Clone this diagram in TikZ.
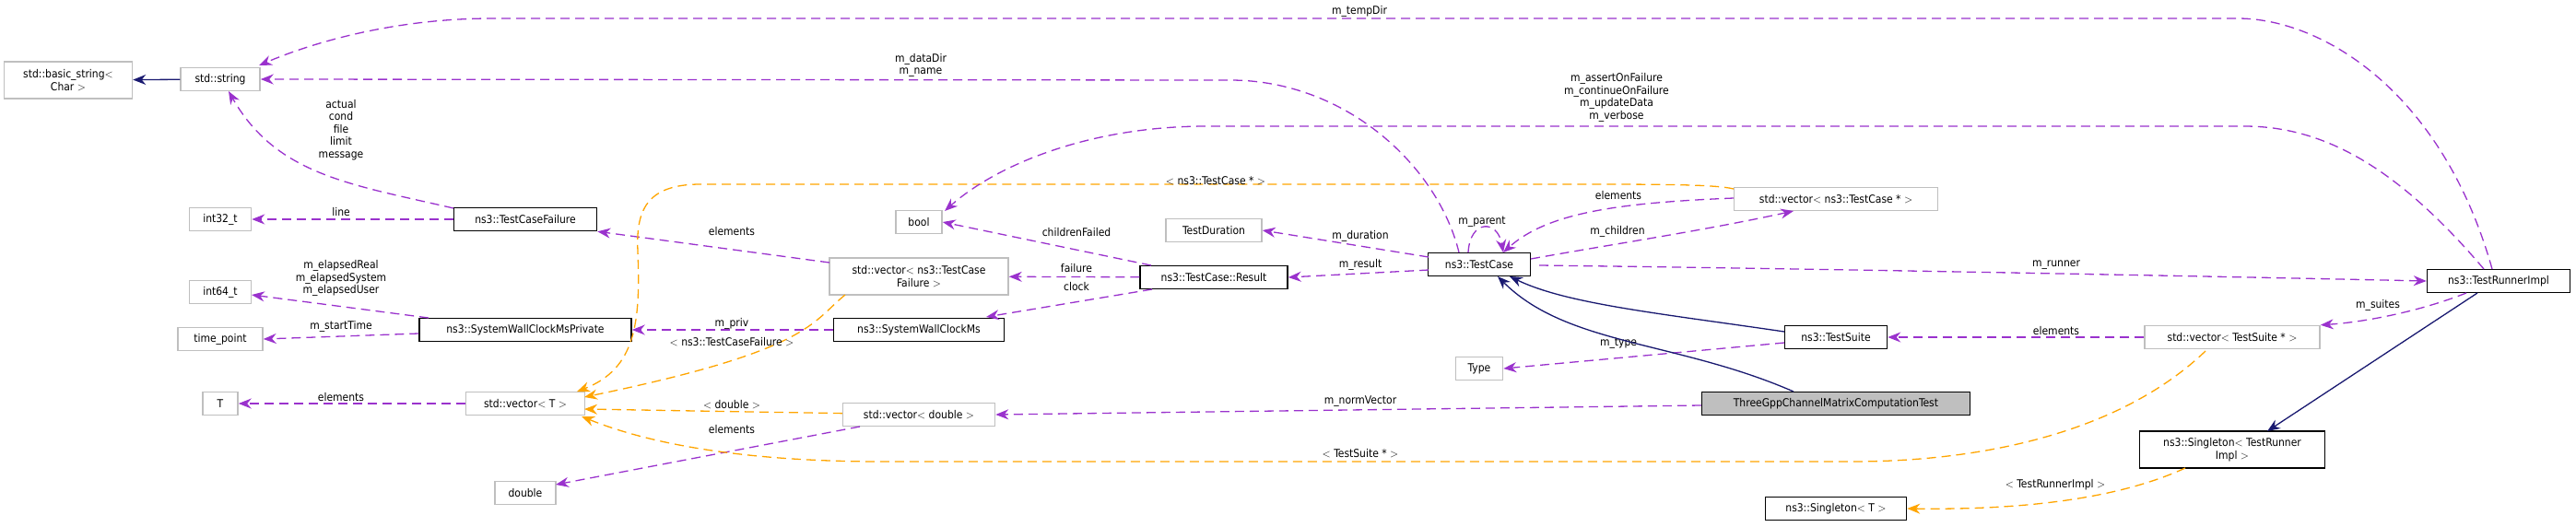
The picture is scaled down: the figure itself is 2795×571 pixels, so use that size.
\documentclass[tikz,border=0pt]{standalone}
\usepackage{fontspec}
\setmainfont{DejaVu Sans Condensed}
\usetikzlibrary{arrows.meta}
\definecolor{pur}{HTML}{9A32CD}
\definecolor{ora}{HTML}{FFA500}
\definecolor{nav}{HTML}{191970}
\definecolor{gbox}{HTML}{BFBFBF}
\begin{document}
\begin{tikzpicture}[x=1pt,y=-1pt,
  box/.style={draw=gbox,line width=1.5pt,fill=white,inner sep=1pt,minimum height=25pt,font=\fontsize{12}{14}\selectfont,align=center},
  doc/.style={box,draw=black},
  rel/.style={pur,dash pattern=on 10pt off 6pt,line width=1.3pt,-{Stealth[length=14pt,width=11pt]}},
  tpl/.style={rel,ora},
  inh/.style={nav,line width=1.3pt,-{Stealth[length=14pt,width=11pt]}},
  lab/.style={font=\fontsize{12}{13.5}\selectfont,align=center,inner sep=0pt}]
\useasboundingbox (0,0) rectangle (2795,571);
% nodes
\node[box,minimum width=139pt,minimum height=40pt] (bstr) at (74,87) {std::basic\_string$<$\\Char $>$};
\node[box,minimum width=86pt] (str) at (239,86) {std::string};
\node[box,minimum width=67pt] (i32) at (239,238) {int32\_t};
\node[doc,minimum width=155pt] (tcf) at (570,238) {ns3::TestCaseFailure};
\node[box,minimum width=67pt] (i64) at (239,317) {int64\_t};
\node[box,minimum width=92pt] (tp) at (239,368) {time\_point};
\node[doc,minimum width=230pt] (swp) at (570,358) {ns3::SystemWallClockMsPrivate};
\node[box,minimum width=38pt] (T) at (239,438) {T};
\node[box,minimum width=129pt] (vT) at (570,438) {std::vector$<$ T $>$};
\node[box,minimum width=66pt] (dbl) at (570,535) {double};
\node[box,minimum width=50pt] (bool) at (997,241) {bool};
\node[box,minimum width=194pt,minimum height=40pt] (vtcf) at (997,300) {std::vector$<$ ns3::TestCase\\Failure $>$};
\node[doc,minimum width=185pt] (swc) at (997,358) {ns3::SystemWallClockMs};
\node[box,minimum width=165pt] (vd) at (997,450) {std::vector$<$ double $>$};
\node[box,minimum width=104pt] (td) at (1317,250) {TestDuration};
\node[doc,minimum width=160pt] (res) at (1317,301) {ns3::TestCase::Result};
\node[doc,minimum width=111pt] (tc) at (1605,287) {ns3::TestCase};
\node[box,minimum width=51pt] (type) at (1605,400) {Type};
\node[box,minimum width=221pt] (vtc) at (1992,216) {std::vector$<$ ns3::TestCase * $>$};
\node[doc,minimum width=111pt] (ts) at (1992,366) {ns3::TestSuite};
\node[doc,fill=gbox,minimum width=291pt] (three) at (1992,438) {ThreeGppChannelMatrixComputationTest};
\node[doc,minimum width=155pt] (tri) at (2711,305) {ns3::TestRunnerImpl};
\node[box,minimum width=190pt] (vts) at (2422,366) {std::vector$<$ TestSuite * $>$};
\node[doc,minimum width=201pt,minimum height=40pt] (stri) at (2422,488) {ns3::Singleton$<$ TestRunner\\Impl $>$};
\node[doc,minimum width=153pt] (sT) at (1992,552) {ns3::Singleton$<$ T $>$};
% coordinates
\coordinate (tcfA) at (492,226);
\coordinate (swpA) at (465,345);
\coordinate (vtcfA) at (917,320);
\coordinate (vtcA) at (1881,205);
\coordinate (vdA) at (933,463);
\coordinate (vtsA) at (2393,381);
\coordinate (resA) at (1249,288);
\coordinate (resB) at (1250,314);
\coordinate (tcA) at (1550,279);
\coordinate (tcB) at (1550,293);
\coordinate (tcC) at (1661,281);
\coordinate (tcD) at (1670,288);
\coordinate (tcTop1) at (1583,274);
\coordinate (tcTop2) at (1593,274);
\coordinate (tcTop3) at (1631,274);
\coordinate (tcBot1) at (1638,300);
\coordinate (tcBot2) at (1625,300);
\coordinate (triT1) at (2704,292);
\coordinate (triT2) at (2695,292);
\coordinate (triB1) at (2676,318);
\coordinate (triB2) at (2688,318);
\coordinate (tsA) at (1936,372);
\coordinate (tsB) at (1936,360);
\coordinate (threeA) at (1946,425);
\coordinate (striA) at (2371,508);
\coordinate (striT) at (2460,468);
% edges
\draw[inh] (str) -- (bstr);
\draw[rel] (tcfA) .. controls (380,200) and (300,190) .. (248,99);
\node[lab] at (370,141) {actual\\cond\\file\\limit\\message};
\draw[rel] (tcf) -- (i32); \node[lab] at (370,230) {line};
\draw[rel] (swpA) -- (273,320);
\node[lab] at (370,302) {m\_elapsedReal\\m\_elapsedSystem\\m\_elapsedUser};
\draw[rel] (swp.west) ++(0,4) -- (tp.east); \node[lab] at (370,354) {m\_startTime};
\draw[rel] (vT) -- (T); \node[lab] at (370,431) {elements};
\draw[rel] (900,285) -- (tcf.south east); \node[lab] at (794,251) {elements};
\draw[tpl] (vtcfA) .. controls (880,350) and (880,380) .. (634,431);
\node[lab] at (794,371) {$<$ ns3::TestCaseFailure $>$};
\draw[tpl] (vtcA) .. controls (1860,200) and (1800,200) .. (1700,200) -- (760,200) .. controls (700,200) and (690,230) .. (692,273) .. controls (695,350) and (690,400) .. (626,425);
\node[lab] at (1319,196) {$<$ ns3::TestCase * $>$};
\draw[tpl] (vd) -- (634,444); \node[lab] at (794,439) {$<$ double $>$};
\draw[rel] (vdA) -- (603,526); \node[lab] at (794,466) {elements};
\draw[tpl] (vtsA) .. controls (2300,470) and (2150,501) .. (2009,501) -- (958,501) .. controls (800,501) and (700,480) .. (631,452);
\node[lab] at (1476,492) {$<$ TestSuite * $>$};
\draw[rel] (swc) -- (swp); \node[lab] at (794,351) {m\_priv};
\draw[rel] (res) -- (vtcf); \node[lab] at (1168,291) {failure};
\draw[rel] (resB) -- (1070,344); \node[lab] at (1168,311) {clock};
\draw[rel] (resA) -- (bool.east); \node[lab] at (1168,252) {childrenFailed};
\draw[rel] (tcB) -- (res.east); \node[lab] at (1476,287) {m\_result};
\draw[rel] (tcA) -- (td.east); \node[lab] at (1476,256) {m\_duration};
\draw[rel] (tcC) .. controls (1750,265) and (1850,250) .. (1946,229); \node[lab] at (1755,251) {m\_children};
\draw[rel] (vtcA) ++(0,10) .. controls (1760,220) and (1680,230) .. (tcTop3); \node[lab] at (1756,212) {elements};
\draw[rel] (tcTop2) .. controls (1595,238) and (1625,238) .. (tcTop3); \node[lab] at (1608,241) {m\_parent};
\draw[rel] (tcD) .. controls (2000,292) and (2400,300) .. (tri.west); \node[lab] at (2231,288) {m\_runner};
\draw[rel] (triB1) .. controls (2620,340) and (2560,350) .. (vts.north east); \node[lab] at (2580,331) {m\_suites};
\draw[rel] (vts) -- (ts); \node[lab] at (2231,359) {elements};
\draw[rel] (tsA) -- (type.east); \node[lab] at (1756,373) {m\_type};
\draw[rel] (three.west) ++(0,2) -- (vd.east); \node[lab] at (1476,436) {m\_normVector};
\draw[inh] (tsB) .. controls (1800,340) and (1700,330) .. (tcBot1);
\draw[inh] (threeA) .. controls (1820,370) and (1700,375) .. (tcBot2);
\draw[inh] (triB2) -- (striT);
\draw[tpl] (striA) .. controls (2280,550) and (2150,553) .. (sT.east); \node[lab] at (2230,526) {$<$ TestRunnerImpl $>$};
\draw[rel] (triT1) .. controls (2650,100) and (2520,20) .. (2428,20) -- (534,20) .. controls (420,20) and (330,50) .. (281,71);
\node[lab] at (1475,12) {m\_tempDir};
\draw[rel] (triT2) .. controls (2600,180) and (2520,137) .. (2435,137) -- (1309,137) .. controls (1180,137) and (1080,180) .. (1025,229);
\node[lab] at (1754,106) {m\_assertOnFailure\\m\_continueOnFailure\\m\_updateData\\m\_verbose};
\draw[rel] (tcTop1) .. controls (1560,180) and (1460,87) .. (1335,87) -- (str.east);
\node[lab] at (999,71) {m\_dataDir\\m\_name};
\end{tikzpicture}
\end{document}
